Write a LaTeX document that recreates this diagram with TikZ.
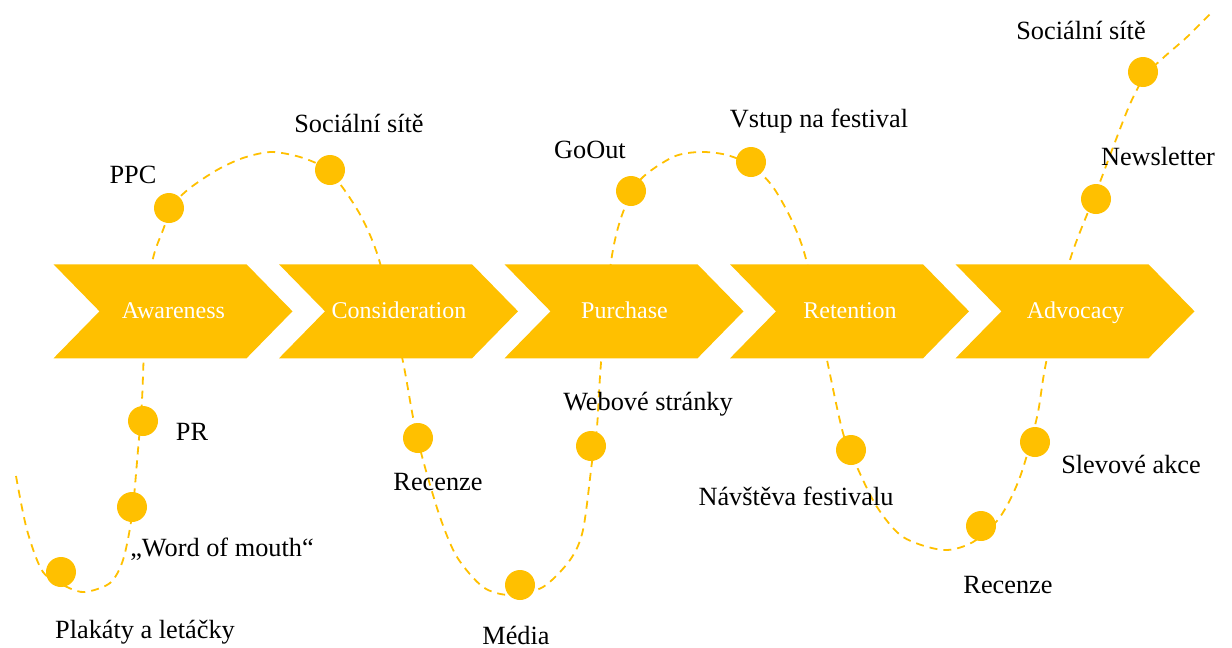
\documentclass[tikz,border=0pt]{standalone}
\usepackage{fontspec}
\setmainfont{Liberation Serif}
\definecolor{gold}{HTML}{FFC000}
\begin{document}
\begin{tikzpicture}[x=1pt,y=-1pt,
  chev/.style={fill=gold},
  chevtext/.style={text=white,font=\fontsize{24}{28}\selectfont,inner sep=0pt,anchor=base},
  dot/.style={circle,fill=gold,minimum size=30pt,inner sep=0pt},
  lbl/.style={font=\fontsize{26.3}{30}\selectfont,inner sep=0pt,text=black},
  path/.style={draw=gold,line width=1.8pt,dash pattern=on 8pt off 6pt}]
\useasboundingbox (0,0) rectangle (1232,648);
% dashed journey curve
\draw[path] plot[smooth,tension=0.5] coordinates {
 (16,476) (27,530) (43,572) (67,587) (85,592) (110,583) (123,560) (132,515) (138,450)
 (142,400) (145,330) (152,263) (163,230) (174,204) (190,188) (217,170) (243,158) (271,152)
 (300,157) (325,168) (343,188) (363,220) (380,263) (402,357) (413,417) (423,460)
 (440,517) (457,557) (483,587) (510,595) (543,587) (570,560) (583,530) (592,462)
 (597,427) (601,363) (611,262) (622,215) (640,180) (673,157) (700,152) (727,155)
 (752,166) (773,187) (793,223) (807,263) (827,360) (843,433) (857,467) (877,507)
 (903,537) (943,550) (973,542) (1000,517) (1020,477) (1037,417) (1046,363) (1069,263)
 (1097,190) (1112,150) (1130,104) (1145,76) (1163,58) (1187,37) (1211,13)};
% chevrons
\foreach \x/\t/\n in {53.5/Awareness/aw,279/Consideration/co,504.5/Purchase/pu,730/Retention/re,955.5/Advocacy/ad}{
  \fill[chev] (\x,264.3) -- (\x+193,264.3) -- (\x+239,311.3) -- (\x+193,358.3) -- (\x,358.3) -- (\x+46,311.3) -- cycle;
  \node[chevtext] (\n) at (\x+120,318) {\t};
}
% touchpoints
\node[dot] (c1) at (61,572) {};
\node[dot] (c2) at (132,507) {};
\node[dot] (c3) at (143,421) {};
\node[dot] (c4) at (169,208) {};
\node[dot] (c5) at (330,170) {};
\node[dot] (c6) at (418,438) {};
\node[dot] (c7) at (520,585) {};
\node[dot] (c8) at (591,446) {};
\node[dot] (c9) at (631,191) {};
\node[dot] (c10) at (751,162) {};
\node[dot] (c11) at (851,450) {};
\node[dot] (c12) at (981,526) {};
\node[dot] (c13) at (1035,442) {};
\node[dot] (c14) at (1096,199) {};
\node[dot] (c15) at (1143,72) {};
% labels
\node[lbl] (l1) at (145,632) {Plakáty a letáčky};
\node[lbl] (l2) at (222,549) {„Word of mouth“};
\node[lbl] (l3) at (192,432) {PR};
\node[lbl] (l4) at (133,175) {PPC};
\node[lbl] (l5) at (359,123) {Sociální sítě};
\node[lbl] (l6) at (438,482) {Recenze};
\node[lbl] (l7) at (516,635) {Média};
\node[lbl] (l8) at (648,404) {Webové stránky};
\node[lbl] (l9) at (590,150) {GoOut};
\node[lbl] (l10) at (819,121) {Vstup na festival};
\node[lbl] (l11) at (796,496) {Návštěva festivalu};
\node[lbl] (l12) at (1008,585) {Recenze};
\node[lbl] (l13) at (1131,464) {Slevové akce};
\node[lbl] (l14) at (1158,157) {Newsletter};
\node[lbl] (l15) at (1081,30) {Sociální sítě};
\end{tikzpicture}
\end{document}
